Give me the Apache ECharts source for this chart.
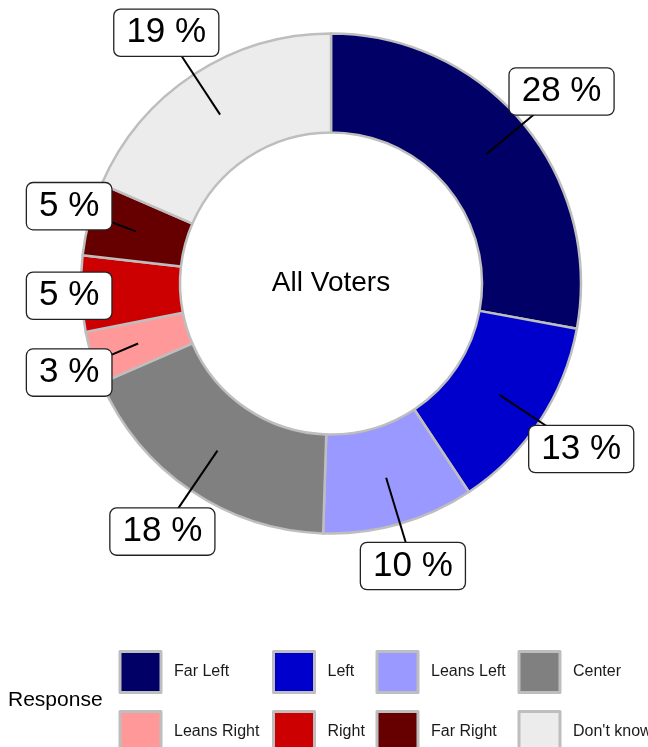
<!DOCTYPE html>
<html>
<head>
<meta charset="utf-8">
<script src="https://cdn.jsdelivr.net/npm/echarts@6/dist/echarts.min.js"></script>
<style>
html,body{margin:0;padding:0;background:#fff;}
#chart{width:648px;height:747px;}
</style>
</head>
<body>
<div id="chart"></div>
<script>
// ---- data ----
const categories = ['Far Left', 'Left', 'Leans Left', 'Center', 'Leans Right', 'Right', 'Far Right', "Don't know"];
const shares = [27.9, 12.8, 9.8, 18.0, 3.4, 4.9, 4.7, 18.5];
const shownPercents = [28, 13, 10, 18, 3, 5, 5, 19];
const colors = ['#000066', '#0000CC', '#9999FF', '#808080', '#FF9999', '#CC0000', '#660000', '#EBECEB'];
const centerTitle = 'All Voters';
const legendTitle = 'Response';

// ---- layout constants ----
const FONT = '"Liberation Sans", Arial, Helvetica, sans-serif';
const W = 648, H = 747;
const CX = 331, CY = 283.5;
const R_IN = 151, R_OUT = 250;
const R_SEG = 202;   // leader line start radius
const R_LAB = 300;   // label centre radius
const MIN_LEFT = 27, MAX_BOTTOM = 589, MIN_TOP = 9;
const LAB_FS = 35, LAB_LH = 36, PAD_X = 12, PAD_Y = 5;

const total = shares.reduce((a, b) => a + b, 0);
function midAngle(i) {
  let cum = 0;
  for (let k = 0; k < i; k++) cum += shares[k];
  return (cum + shares[i] / 2) / total * Math.PI * 2;
}
const labelText = i => shownPercents[i] + ' %';
const mctx = document.createElement('canvas').getContext('2d');
mctx.font = LAB_FS + 'px ' + FONT;
function boxSize(i) {
  return [mctx.measureText(labelText(i)).width + 2 * PAD_X, LAB_LH + 2 * PAD_Y];
}
function labelGeom(i) {
  const a = midAngle(i);
  const s = Math.sin(a), c = Math.cos(a);
  const sx = CX + R_SEG * s, sy = CY - R_SEG * c;
  const [w, h] = boxSize(i);
  let lx = CX + R_LAB * s, ly = CY - R_LAB * c;
  lx = Math.max(lx, MIN_LEFT + w / 2);
  lx = Math.min(lx, W - 14 - w / 2);
  ly = Math.min(ly, MAX_BOTTOM - h / 2);
  ly = Math.max(ly, MIN_TOP + h / 2);
  const dx = lx - sx, dy = ly - sy;
  const t = Math.min((w / 2) / Math.max(Math.abs(dx), 1e-6), (h / 2) / Math.max(Math.abs(dy), 1e-6));
  const ex = lx - t * dx, ey = ly - t * dy;
  return {sx, sy, lx, ly, ex, ey, len: Math.hypot(ex - sx, ey - sy)};
}

const chart = echarts.init(document.getElementById('chart'), null, {renderer: 'canvas'});

const legendKeyLefts = [118.5, 272, 375.5, 517.5];
const perRow = 4;
const legends = legendKeyLefts.map((left, j) => ({
  orient: 'vertical',
  left: left,
  top: 650,
  height: 300,
  padding: 0,
  itemWidth: 41,
  itemHeight: 41,
  itemGap: 16,
  icon: 'rect',
  selectedMode: false,
  data: categories.filter((c, i) => i % perRow === j),
  itemStyle: {borderColor: '#bebebe', borderWidth: 3},
  textStyle: {fontFamily: FONT, fontSize: 16, color: '#1a1a1a', padding: [0, 0, 0, 8]}
}));

const geoms = categories.map((name, i) => labelGeom(i));
const leaderLines = geoms
  .filter(g => g.len >= 24)
  .map(g => ({
    type: 'line', z: 10, silent: true,
    shape: {x1: g.sx, y1: g.sy, x2: g.ex, y2: g.ey},
    style: {stroke: '#000', lineWidth: 2}
  }));
const labelBoxes = geoms.map((g, i) => ({
  type: 'text', z: 20, silent: true, x: g.lx, y: g.ly,
  style: {
    text: labelText(i),
    fontFamily: FONT, fontSize: LAB_FS, lineHeight: LAB_LH,
    fill: '#000', align: 'center', verticalAlign: 'middle',
    backgroundColor: '#ffffff', borderColor: '#222', borderWidth: 1.3, borderRadius: 6,
    padding: [PAD_Y, PAD_X]
  }
}));

const option = {
  animation: false,
  backgroundColor: '#ffffff',
  color: colors,
  legend: legends,
  graphic: [
    {
      type: 'text', z: 100, x: CX, y: CY,
      style: {text: centerTitle, fontFamily: FONT, fontSize: 28, fill: '#000', align: 'center', verticalAlign: 'middle'}
    },
    {
      type: 'text', z: 100, x: 8, y: 700,
      style: {text: legendTitle, fontFamily: FONT, fontSize: 21, fill: '#000', align: 'left', verticalAlign: 'middle'}
    }
  ].concat(leaderLines, labelBoxes),
  series: [{
    type: 'pie',
    z: 2,
    center: [CX, CY],
    radius: [R_IN, R_OUT],
    startAngle: 90,
    clockwise: true,
    avoidLabelOverlap: false,
    silent: true,
    itemStyle: {borderColor: '#bebebe', borderWidth: 2.5},
    label: {show: false},
    labelLine: {show: false},
    emphasis: {disabled: true},
    data: categories.map((name, i) => ({name: name, value: shares[i]}))
  }]
};
chart.setOption(option);
</script>
</body>
</html>
